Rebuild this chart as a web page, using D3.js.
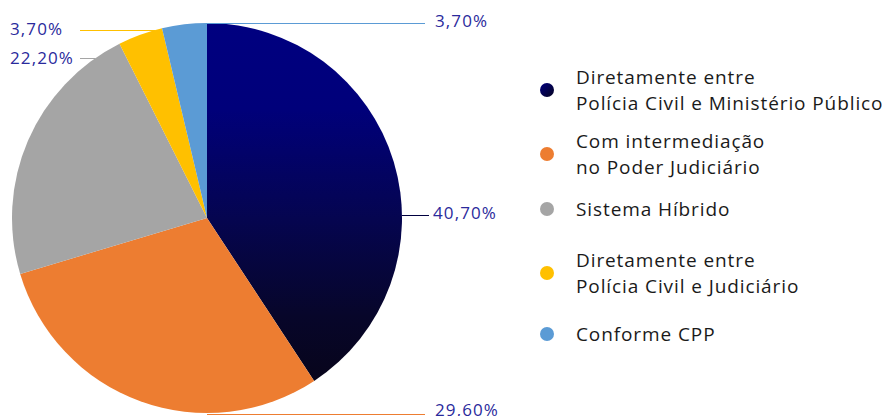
<!DOCTYPE html>
<meta charset="utf-8">
<style>
body { margin: 0; background: #fff; }
.pct { font-family: "Open Sans", sans-serif; font-size: 17px; letter-spacing: 1.1px; fill: #2a2a9c; }
.leg text { font-family: "Open Sans", sans-serif; font-size: 19px; letter-spacing: 0.9px; fill: #1a1a1a; }
</style>
<svg width="889" height="416"></svg>
<script src="https://d3js.org/d3.v7.min.js"></script>
<script>

// data
var categories = [
  ["Diretamente entre", "Polícia Civil e Ministério Público"],
  ["Com intermediação", "no Poder Judiciário"],
  ["Sistema Híbrido"],
  ["Diretamente entre", "Polícia Civil e Judiciário"],
  ["Conforme CPP"]
];
var values = [40.7, 29.6, 22.2, 3.7, 3.7];
var colors = ["url(#navy)", "#ed7d31", "#a5a5a5", "#ffc000", "#5b9bd5"];
var lineColors = ["#000040", "#ed7d31", "#a5a5a5", "#ffc000", "#5b9bd5"];

// where each label sits: side, y of the leader line, y of the text
var labelPos = [
  { side: "right", y: 215, ty: 212, x2: 429, tx: 433 },
  { side: "right", y: 414, ty: 409, x2: 425, tx: 435 },
  { side: "left",  y: 58,  ty: 57,  x2: 80,  tx: 10 },
  { side: "left",  y: 30,  ty: 28,  x2: 80,  tx: 10 },
  { side: "right", y: 23,  ty: 20.5, x2: 425, tx: 435 }
];

var svg = d3.select("svg"),
    cx = 207, cy = 218, r = 195;

var defs = svg.append("defs");
// gradient coords are in the pie group's space (centre at 0,0)
var grad = defs.append("linearGradient")
    .attr("id", "navy")
    .attr("gradientUnits", "userSpaceOnUse")
    .attr("x1", 0).attr("y1", -r).attr("x2", 0).attr("y2", r);
grad.append("stop").attr("offset", 0).attr("stop-color", "#000080");
grad.append("stop").attr("offset", 0.22).attr("stop-color", "#00007a");
grad.append("stop").attr("offset", 0.5).attr("stop-color", "#050550");
grad.append("stop").attr("offset", 0.75).attr("stop-color", "#07062a");
grad.append("stop").attr("offset", 1).attr("stop-color", "#080414");

var dotGrad = defs.append("linearGradient")
    .attr("id", "navydot")
    .attr("x1", 0).attr("y1", 0).attr("x2", 1).attr("y2", 1);
dotGrad.append("stop").attr("offset", 0).attr("stop-color", "#000080");
dotGrad.append("stop").attr("offset", 1).attr("stop-color", "#060420");

var pie = d3.pie().sort(null).value(function(d) { return d; });
var arc = d3.arc().innerRadius(0).outerRadius(r);

var g = svg.append("g").attr("transform", "translate(" + cx + "," + cy + ")");

g.selectAll("path")
  .data(pie(values))
  .enter().append("path")
    .attr("d", arc)
    .attr("fill", function(d, i) { return colors[i]; });

var ptLocale = d3.formatLocale({ decimal: ",", thousands: ".", grouping: [3], currency: ["R$", ""] });
var fmt = ptLocale.format(".2f");

// leader lines start on the circle at the label's height
labelPos.forEach(function(p, i) {
  var dy = p.y - cy;
  var dx = Math.sqrt(Math.max(0, r * r - dy * dy));
  var x1 = p.side === "right" ? cx + dx : cx - dx;
  if (i === 1 || i === 4) x1 = cx;
  svg.append("line")
    .attr("x1", x1).attr("y1", p.y + 0.5)
    .attr("x2", p.x2).attr("y2", p.y + 0.5)
    .attr("stroke", lineColors[i])
    .attr("stroke-width", 1);
  svg.append("text")
    .attr("class", "pct")
    .attr("x", p.tx)
    .attr("y", p.ty)
    .attr("dominant-baseline", "central")
    .text(fmt(values[i]) + "%");
});

// legend
var legY = [90, 154, 209, 273, 334];
var leg = svg.append("g").attr("class", "leg");
categories.forEach(function(lines, i) {
  leg.append("circle")
    .attr("cx", 547).attr("cy", legY[i]).attr("r", 7)
    .attr("fill", i === 0 ? "url(#navydot)" : colors[i]);
  var t = leg.append("text")
    .attr("x", 576)
    .attr("y", legY[i] - (lines.length - 1) * 12.75)
    .attr("dominant-baseline", "central");
  lines.forEach(function(s, j) {
    t.append("tspan").attr("x", 576).attr("dy", j === 0 ? 0 : 25.5).text(s);
  });
});

</script>
